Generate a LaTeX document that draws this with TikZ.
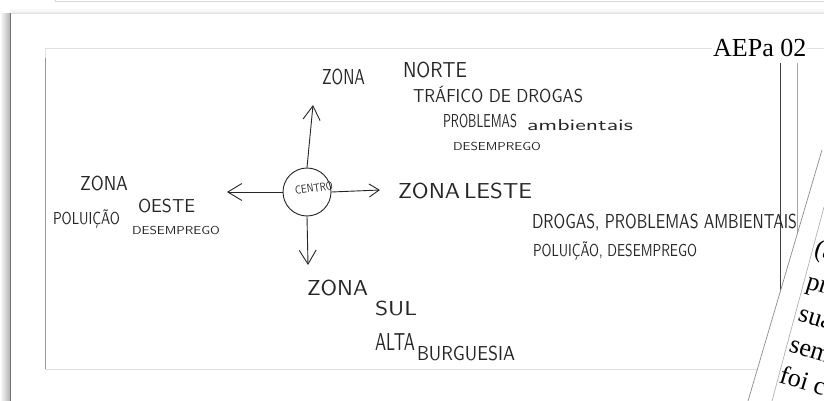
\documentclass[tikz,border=0pt]{standalone}
\usepackage{fontspec}
\usepackage{graphicx}
\usetikzlibrary{arrows.meta}
\newfontfamily\serifA{Liberation Serif}
\definecolor{ink}{gray}{0.15}
\newcommand\hwtext[3]{\resizebox{#1pt}{#2pt}{\vphantom{A}\smash{#3}}}
\tikzset{
  hand/.style={anchor=base west,inner sep=0pt,outer sep=0pt,text=ink,font=\sffamily},
  arr/.style={draw=ink,line width=0.9pt,-{Straight Barb[length=14pt,width=17pt]}},
  arrsmall/.style={draw=ink,line width=0.9pt,-{Straight Barb[length=10pt,width=13pt]}},
  rottext/.style={rotate=-17,anchor=base west,inner sep=0pt,text=black,font=\serifA\fontsize{26}{26}\selectfont},
}
\begin{document}
\begin{tikzpicture}[x=1pt,y=-1pt]
\useasboundingbox (0,0) rectangle (824,401);
\clip (0,0) rectangle (824,401);
\fill[white] (0,0) rectangle (824,401);
% previous page edge
\draw[black!15,line width=0.8pt] (55,0) -- (55,1.5) -- (824,1.5);
% page shadow and edges
\shade[left color=white,right color=black!30] (0,14) rectangle (10,401);
\shade[top color=white,bottom color=black!8] (10,8) rectangle (824,13);
\draw[black!55,line width=1pt] (10.5,13) -- (10.5,401);
\draw[black!12,line width=0.8pt] (10.5,13) -- (824,13);
% scan box
\draw[black!12,line width=0.8pt] (45,48) -- (830,48);
\draw[black!12,line width=0.8pt] (45,48) -- (45,369) -- (830,369);
\draw[black!40,line width=0.8pt] (45,58) -- (45,369);
% vertical lines at right of scan
\draw[black!75,line width=0.9pt] (780,63) -- (780,300);
\draw[black!35,line width=0.9pt] (797,63) -- (797,250);

% centre and arrows
\node[circle,draw=ink,line width=0.9pt,minimum size=48pt,inner sep=0pt] (c) at (307,192) {};
\node[rotate=8,inner sep=0pt,text=ink,font=\sffamily] (ct) at (314,188) {\hwtext{38}{8}{CENTRO}};
\coordinate (tipN) at (313,105);
\coordinate (tipW) at (227,192);
\coordinate (tipE) at (380,190);
\coordinate (tipS) at (308,265);
\draw[arr] (c.north) -- (tipN);
\draw[arr] (c.west) -- (tipW);
\draw[arrsmall] (c.east) -- (tipE);
\draw[arr] (c.south) -- (tipS);

% north
\node[hand] (zn1) at (322,85) {\hwtext{43}{15}{ZONA}};
\node[hand] (zn2) at (403,78) {\hwtext{64}{15}{NORTE}};
\node[hand] (zn3) at (413,103) {\hwtext{170}{13}{TRÁFICO DE DROGAS}};
\node[hand] (zn4) at (443,128) {\hwtext{74}{13}{PROBLEMAS}};
\node[hand] (zn5) at (527,131) {\hwtext{106}{11}{ambientais}};
\node[hand] (zn6) at (453,150) {\hwtext{88}{8}{DESEMPREGO}};
% west
\node[hand] (zw1) at (80,190) {\hwtext{48}{14}{ZONA}};
\node[hand] (zw2) at (138,212) {\hwtext{57}{13}{OESTE}};
\node[hand] (zw3) at (53,224) {\hwtext{67}{12}{POLUIÇÃO}};
\node[hand] (zw4) at (132,234) {\hwtext{88}{8}{DESEMPREGO}};
% east
\node[hand] (ze1) at (398,198) {\hwtext{134}{15}{ZONA\,LESTE}};
\node[hand] (ze2) at (532,228) {\hwtext{265}{14}{DROGAS, PROBLEMAS AMBIENTAIS}};
\node[hand] (ze3) at (533,256) {\hwtext{164}{12}{POLUIÇÃO, DESEMPREGO}};
% south
\node[hand] (zs1) at (307,295) {\hwtext{61}{15}{ZONA}};
\node[hand] (zs2) at (375,315) {\hwtext{42}{14}{SUL}};
\node[hand] (zs3) at (375,350) {\hwtext{40}{17}{ALTA}};
\node[hand] (zs4) at (417,360) {\hwtext{98}{14}{BURGUESIA}};

% overlapping rotated page
\fill[white] (822,150) -- (748,401) -- (824,401) -- (824,150) -- cycle;
\draw[black!45,line width=0.7pt] (822,150) -- (748,401);
\draw[black!30,line width=0.7pt] (824,207) -- (772,401);
\node[rottext] (r1) at (813,255) {(a};
\node[rottext] (r2) at (805,288) {pr};
\node[rottext] (r3) at (797,320) {sua};
\node[rottext] (r4) at (788,351) {sem};
\node[rottext] (r5) at (778,382) {foi c};

% label
\node[anchor=base west,inner sep=1pt,fill=white,text=black,font=\serifA\fontsize{26}{26}\selectfont] (ttl) at (712,57) {AEPa 02};
\end{tikzpicture}
\end{document}
